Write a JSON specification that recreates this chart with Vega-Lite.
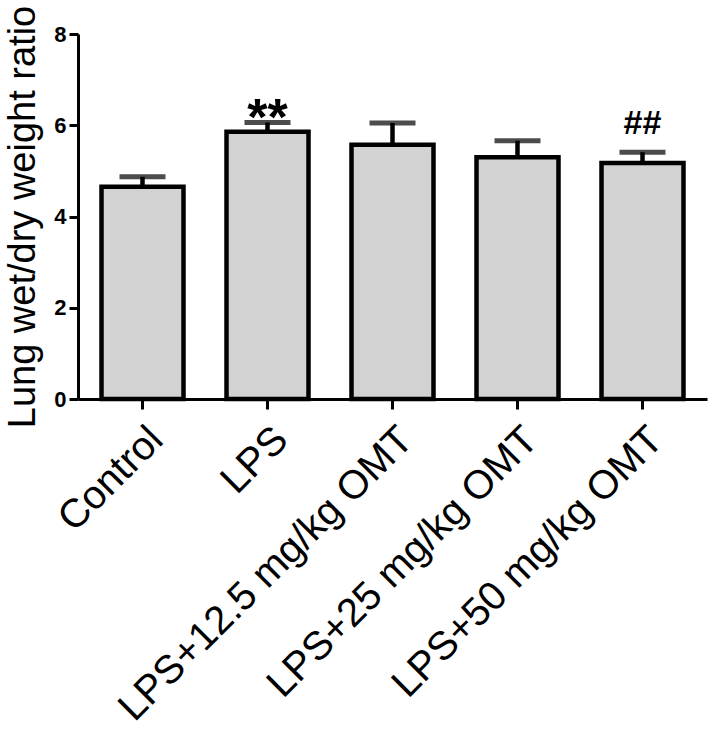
{
  "$schema": "https://vega.github.io/schema/vega-lite/v6.json",
  "autosize": "none",
  "width": 629,
  "height": 365,
  "padding": {"left": 78, "top": 34, "right": 1, "bottom": 332},
  "background": "white",
  "config": {"view": {"stroke": null}, "font": "Liberation Sans"},
  "data": {
    "values": [
      {"group": "Control", "mean": 4.65, "upper": 4.87, "star": "", "hash": ""},
      {"group": "LPS", "mean": 5.86, "upper": 6.06, "star": "**", "hash": ""},
      {"group": "LPS+12.5 mg/kg OMT", "mean": 5.57, "upper": 6.05, "star": "", "hash": ""},
      {"group": "LPS+25 mg/kg OMT", "mean": 5.3, "upper": 5.66, "star": "", "hash": ""},
      {"group": "LPS+50 mg/kg OMT", "mean": 5.17, "upper": 5.41, "star": "", "hash": "##"}
    ]
  },
  "encoding": {
    "x": {
      "field": "group",
      "type": "nominal",
      "sort": null,
      "scale": {"paddingInner": 0.344, "paddingOuter": 0.188},
      "axis": {
        "title": null,
        "labelAngle": -45,
        "labelAlign": "right",
        "labelBaseline": "top",
        "labelFont": "Liberation Sans",
        "labelFontSize": 40,
        "labelColor": "black",
        "labelPadding": 10,
        "labelLimit": 0,
        "tickColor": "black",
        "tickWidth": 3,
        "tickSize": 10,
        "domainColor": "black",
        "domainWidth": 3
      }
    }
  },
  "layer": [
    {
      "mark": {"type": "bar", "fill": "#d2d2d2", "stroke": "black", "strokeWidth": 4.5},
      "encoding": {
        "y": {
          "field": "mean",
          "type": "quantitative",
          "scale": {"domain": [0, 8], "nice": false},
          "axis": {
            "title": "Lung wet/dry weight ratio",
            "titleFont": "Liberation Sans",
            "titleFontSize": 38,
            "titleFontWeight": "normal",
            "titleColor": "black",
            "titlePadding": 11,
            "values": [0, 2, 4, 6, 8],
            "grid": false,
            "labelFont": "Liberation Sans",
            "labelFontSize": 22,
            "labelFontWeight": "bold",
            "labelColor": "black",
            "labelPadding": 3,
            "tickColor": "black",
            "tickWidth": 3,
            "tickSize": 9,
            "domainColor": "black",
            "domainWidth": 3
          }
        }
      }
    },
    {
      "mark": {"type": "rule", "stroke": "black", "strokeWidth": 4.5},
      "encoding": {
        "y": {"field": "mean", "type": "quantitative"},
        "y2": {"field": "upper"}
      }
    },
    {
      "mark": {"type": "tick", "color": "black", "size": 46, "thickness": 5, "orient": "horizontal"},
      "encoding": {
        "y": {"field": "upper", "type": "quantitative"}
      }
    },
    {
      "mark": {"type": "text", "font": "Liberation Sans", "fontSize": 52, "fontWeight": "bold", "baseline": "alphabetic", "dy": 12, "color": "black"},
      "encoding": {
        "y": {"field": "upper", "type": "quantitative"},
        "text": {"field": "star"}
      }
    },
    {
      "mark": {"type": "text", "font": "Liberation Sans", "fontSize": 34, "fontWeight": "bold", "baseline": "alphabetic", "dy": -18, "color": "black"},
      "encoding": {
        "y": {"field": "upper", "type": "quantitative"},
        "text": {"field": "hash"}
      }
    }
  ]
}
